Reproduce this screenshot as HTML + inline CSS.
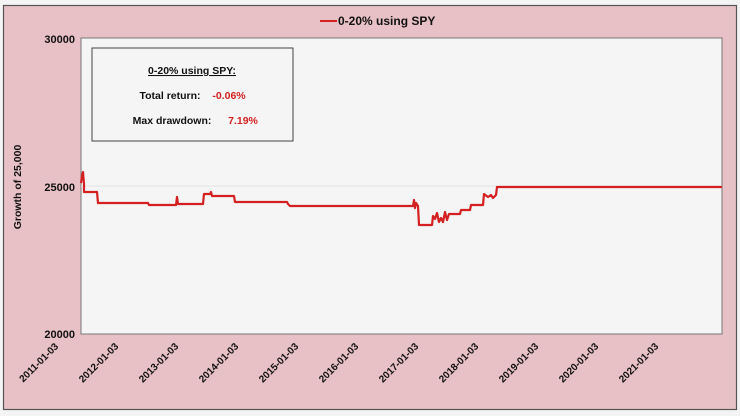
<!DOCTYPE html>
<html><head><meta charset="utf-8"><style>
html,body{margin:0;padding:0;background:#f4f4f4;}
body{width:740px;height:416px;position:relative;overflow:hidden;font-family:"Liberation Sans",Arial,sans-serif;}
</style></head><body>
<svg width="740" height="416" viewBox="0 0 740 416" xmlns="http://www.w3.org/2000/svg" style="position:absolute;left:0;top:0">
<rect x="3.5" y="5.5" width="733" height="404" fill="#e8c1c6" stroke="#555" stroke-width="1.2"/>
<rect x="81" y="38" width="641" height="296" fill="#f5f5f5" stroke="#777" stroke-width="1"/>
<line x1="81" y1="186" x2="722" y2="186" stroke="#e2e2e2" stroke-width="1"/>
<g font-weight="bold" font-size="11" fill="#111" text-anchor="end">
<text x="75" y="43">30000</text>
<text x="75" y="191">25000</text>
<text x="75" y="338">20000</text>
</g>
<text transform="translate(21,187) rotate(-90)" text-anchor="middle" font-weight="bold" font-size="10.5" fill="#111">Growth of 25,000</text>
<line x1="320" y1="21" x2="337" y2="21" stroke="#d42020" stroke-width="2"/>
<text x="338" y="25" font-weight="bold" font-size="12" fill="#111">0-20% using SPY</text>
<rect x="92" y="48" width="201" height="93" fill="#f5f5f5" stroke="#444" stroke-width="1"/>
<g font-weight="bold" font-size="10.5" text-anchor="middle">
<text x="192" y="74" fill="#111" text-decoration="underline">0-20% using SPY:</text>
<text x="170" y="99" fill="#111">Total return:</text>
<text x="229" y="99" fill="#d42020">-0.06%</text>
<text x="172" y="124" fill="#111">Max drawdown:</text>
<text x="243" y="124" fill="#d42020">7.19%</text>
</g>
<polyline fill="none" stroke="#d42020" stroke-width="2.2" stroke-linejoin="round" points="81,183 82,176 83,172 84,184 84,192 97,192 98,203 148,203 149,205 176,205 177,197 178,204 203,204 204,194 210,194 211,192 212,196 234,196 235,202 287,202 288,204 290,206 413,206 414,200 415,208 416,203 418,206 419,225 432,225 433,216 435,219 437,213 439,222 441,218 443,222 445,212 447,220 449,214 460,214 461,210 470,210 471,205 483,205 484,194 488,197 491,195 493,198 496,195 497,187 722,187"/>
<g font-weight="bold" font-size="10" fill="#111" text-anchor="end">
<text transform="translate(59,347) rotate(-45)">2011-01-03</text>
<text transform="translate(119,347) rotate(-45)">2012-01-03</text>
<text transform="translate(179,347) rotate(-45)">2013-01-03</text>
<text transform="translate(239,347) rotate(-45)">2014-01-03</text>
<text transform="translate(299,347) rotate(-45)">2015-01-03</text>
<text transform="translate(359,347) rotate(-45)">2016-01-03</text>
<text transform="translate(419,347) rotate(-45)">2017-01-03</text>
<text transform="translate(479,347) rotate(-45)">2018-01-03</text>
<text transform="translate(539,347) rotate(-45)">2019-01-03</text>
<text transform="translate(599,347) rotate(-45)">2020-01-03</text>
<text transform="translate(659,347) rotate(-45)">2021-01-03</text>
</g>
</svg>
</body></html>
